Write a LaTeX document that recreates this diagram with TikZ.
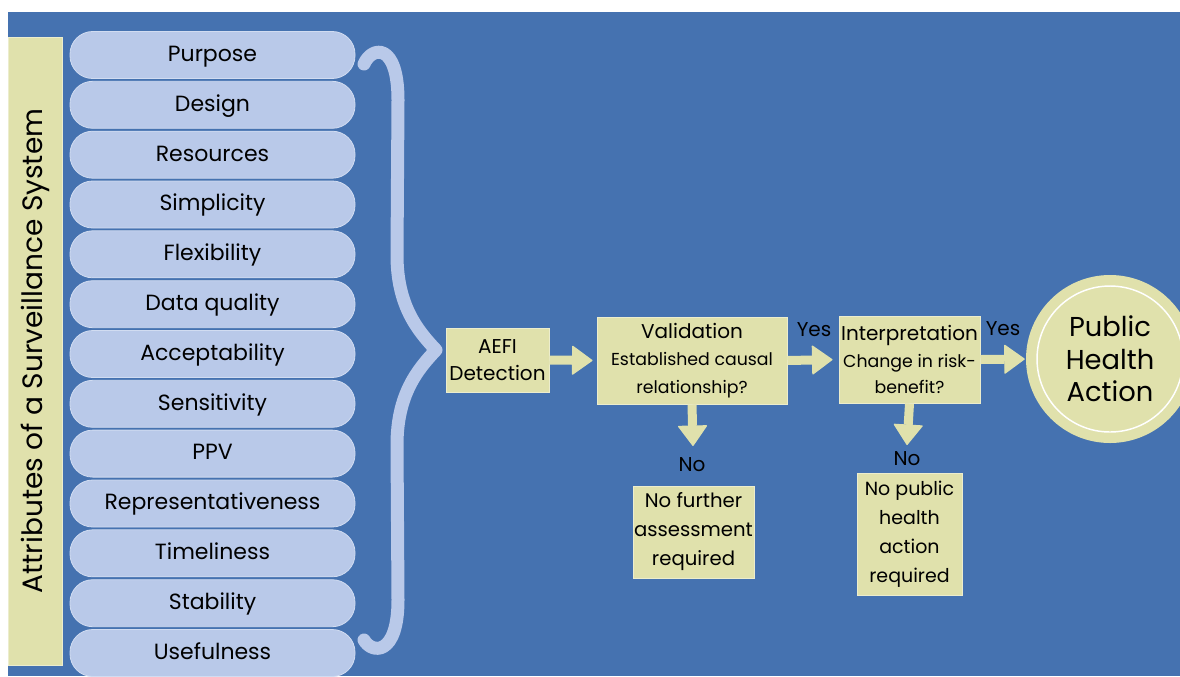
\documentclass[tikz,border=0pt]{standalone}
\usepackage{fontspec}
\setmainfont{Poppins}
\usepackage{tikz}
\usetikzlibrary{arrows.meta}
\definecolor{bgblue}{RGB}{69,114,176}
\definecolor{pillblue}{RGB}{185,201,233}
\definecolor{boxyellow}{RGB}{224,225,172}

\begin{document}
\begin{tikzpicture}[x=0.75pt,y=0.75pt,yscale=-1,xscale=1,
  pill/.style={fill=pillblue,draw=white!35!pillblue,line width=0.6pt,rounded corners=17pt,minimum width=213.75pt,minimum height=35.25pt,inner sep=0pt,text height=1.2em,text depth=0.25em,font=\fontsize{16.5}{19}\selectfont},
  ybox/.style={fill=boxyellow,draw=white!40!boxyellow,line width=0.75pt,inner sep=0pt,align=center},
  blockarrow/.style={draw=boxyellow,line width=6.75pt,-{Triangle[length=15.75pt,width=22.5pt,line width=1pt,round]}},
  answer/.style={inner sep=0.75pt,font=\fontsize{15}{18}\selectfont}]
\useasboundingbox (0,0) rectangle (1180,676);

%Shape: Rectangle
\fill[bgblue] (8,12) rectangle (1180,676);

%Shape: Rectangle
\draw (35,351) node (attrbar) [ybox,rotate=90,minimum width=471pt,minimum height=40.5pt,font=\fontsize{21}{24}\selectfont] {Attributes of a Surveillance System};

% Text Node
\draw (212.5,55) node (purpose) [pill] {Purpose};
% Text Node
\draw (212.5,104.8) node (design) [pill] {Design};
% Text Node
\draw (212.5,154.7) node (resources) [pill] {Resources};
% Text Node
\draw (212.5,204.5) node (simplicity) [pill] {Simplicity};
% Text Node
\draw (212.5,254.3) node (flexibility) [pill] {Flexibility};
% Text Node
\draw (212.5,304.2) node (dataquality) [pill] {Data quality};
% Text Node
\draw (212.5,354) node (acceptability) [pill] {Acceptability};
% Text Node
\draw (212.5,403.8) node (sensitivity) [pill] {Sensitivity};
% Text Node
\draw (212.5,453.6) node (ppv) [pill] {PPV};
% Text Node
\draw (212.5,503.5) node (represent) [pill] {Representativeness};
% Text Node
\draw (212.5,553.3) node (timeliness) [pill] {Timeliness};
% Text Node
\draw (212.5,603.2) node (stability) [pill] {Stability};
% Text Node
\draw (212.5,653) node (usefulness) [pill] {Usefulness};

%Curve Lines
\draw [pillblue,line width=9.75pt,line cap=round,line join=round] (364,64) .. controls (372,46) and (398,42) .. (398,100) -- (397,255) .. controls (397,305) and (417,330) .. (436,350) .. controls (417,370) and (397,395) .. (397,445) -- (398,600) .. controls (398,656) and (372,654) .. (364,640) ;

% Text Node
\draw (497.5,360) node (aefi) [ybox,minimum width=77.25pt,minimum height=48pt,font=\fontsize{15}{20}\selectfont] {AEFI\\Detection};
% Text Node
\draw (692,360.5) node (valid) [ybox,minimum width=142.5pt,minimum height=65.25pt,font=\fontsize{13}{20.5}\selectfont] {{\fontsize{15}{20}\selectfont Validation}\\Established causal\\relationship?};
% Text Node
\draw (909.5,359.5) node (interp) [ybox,minimum width=105.75pt,minimum height=65.25pt,font=\fontsize{13}{20}\selectfont] {{\fontsize{15}{20}\selectfont Interpretation}\\Change in risk-\\benefit?};
% Text Node
\draw (693.5,532) node (nofurther) [ybox,minimum width=90.75pt,minimum height=69pt,font=\fontsize{14.75}{21.75}\selectfont] {No further\\assessment\\required};
% Text Node
\draw (909.5,534) node (nopublic) [ybox,minimum width=78.75pt,minimum height=91.5pt,font=\fontsize{14.25}{21.75}\selectfont] {No public\\health\\action\\required};
% Text Node
\draw (1110,359) node (pha) [circle,fill=boxyellow,minimum size=126pt,inner sep=0pt,align=center,font=\fontsize{20.5}{24.4}\selectfont] {Public\\Health\\Action};
\draw [white,line width=1.1pt] (pha.center) circle (73) ;

% Text Node
\draw (814,330) node (yesvalid) [answer] {Yes};
% Text Node
\draw (1003,329) node (yesinterp) [answer] {Yes};
% Text Node
\draw (692,465) node (novalid) [answer] {No};
% Text Node
\draw (907,459) node (nointerp) [answer] {No};

\coordinate (validtip) at (693,446);
\coordinate (interptip) at (907,445);

%Straight Lines
\draw [blockarrow,shorten >=3pt] (aefi.east) -- (valid.west) ;
\draw [blockarrow,shorten >=4.5pt] (valid.east) -- (interp.west) ;
\draw [blockarrow,shorten >=0.75pt] (interp.east) -- (pha.west) ;
\draw [blockarrow] (valid.south) -- (validtip) ;
\draw [blockarrow] (interp.south) -- (interptip) ;
\end{tikzpicture}
\end{document}
